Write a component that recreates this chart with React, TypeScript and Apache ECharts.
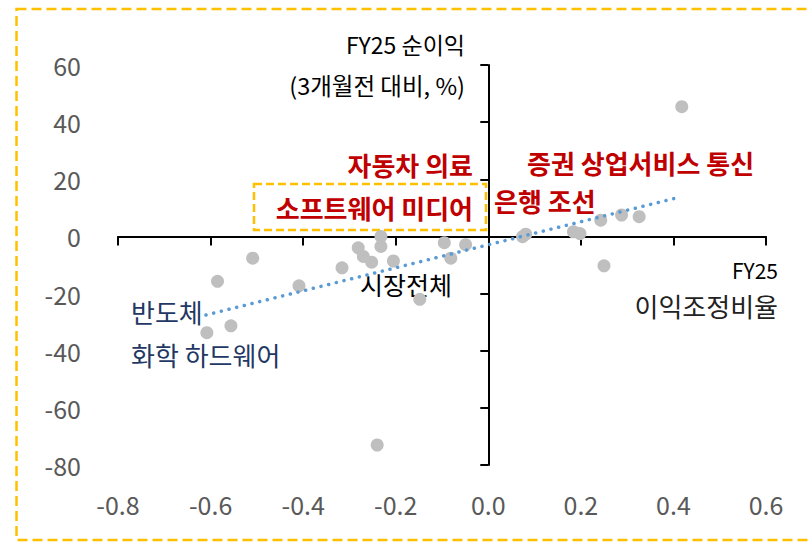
import React, { useEffect, useRef } from "react";
import * as echarts from "echarts";

// FY25 earnings revision ratio (x) vs FY25 net profit change vs 3 months ago (y, %)
const revisionRatio = [
  0.418, -0.585, -0.509, -0.409, -0.608, -0.556, -0.316, -0.281, -0.27, -0.252,
  -0.232, -0.232, -0.205, -0.148, -0.095, -0.081, -0.049, -0.24, 0.074, 0.081,
  0.184, 0.198, 0.243, 0.288, 0.326, 0.25,
];
const profitChange = [
  45.4, -15.7, -7.6, -17.3, -33.7, -31.3, -11, -4, -7, -9,
  0, -3.5, -8.6, -22, -2.2, -7.6, -2.9, -73, -0.1, 0.8,
  1.6, 1.0, 5.7, 7.5, 6.9, -10.3,
];
const trendX = [-0.61, 0.405];
const trendY = [-27.5, 13.4];

const xTicks = { min: -0.8, max: 0.6, interval: 0.2 };
const yTicks = { min: -80, max: 60, interval: 20 };

const FONT = "'Noto Sans CJK KR', 'Noto Sans', sans-serif";

function txt(text: string, x: number, y: number, size: number, color: string, align: string, bold = false) {
  return {
    type: "text",
    x,
    y,
    silent: true,
    style: {
      text,
      fill: color,
      font: `${bold ? "bold " : ""}${size}px ${FONT}`,
      align,
      textAlign: align,
      verticalAlign: "middle",
      textVerticalAlign: "middle",
    },
  };
}

export default function App() {
  const ref = useRef<HTMLDivElement>(null);
  useEffect(() => {
    if (!ref.current) return;
    const chart = echarts.init(ref.current, undefined, { renderer: "svg" });
    const points = revisionRatio.map((x, i) => [x, profitChange[i]]);
    const trend = trendX.map((x, i) => [x, trendY[i]]);
    const red = "#c00000";
    const navy = "#1f3864";
    chart.setOption({
      animation: false,
      textStyle: { fontFamily: FONT },
      grid: { left: 118, right: 44, top: 65, bottom: 77 },
      xAxis: [
        {
          type: "value",
          position: "bottom",
          ...xTicks,
          axisLine: { show: true, onZero: true, lineStyle: { color: "#000", width: 2 } },
          axisTick: { show: true, length: 9, lineStyle: { color: "#000", width: 2 } },
          axisLabel: { show: false },
          splitLine: { show: false },
        },
        {
          type: "value",
          position: "bottom",
          ...xTicks,
          axisLine: { show: false, onZero: false },
          axisTick: { show: false },
          axisLabel: {
            show: true,
            color: "#595959",
            fontSize: 25,
            fontFamily: FONT,
            margin: 26,
            formatter: (v: number) => v.toFixed(1),
          },
          splitLine: { show: false },
        },
      ],
      yAxis: [
        {
          type: "value",
          position: "left",
          ...yTicks,
          axisLine: { show: true, onZero: true, lineStyle: { color: "#000", width: 2 } },
          axisTick: { show: true, length: 8, lineStyle: { color: "#000", width: 2 } },
          axisLabel: { show: false },
          splitLine: { show: false },
        },
        {
          type: "value",
          position: "left",
          ...yTicks,
          axisLine: { show: false, onZero: false },
          axisTick: { show: false },
          axisLabel: { show: true, color: "#595959", fontSize: 25, fontFamily: FONT, margin: 37 },
          splitLine: { show: false },
        },
      ],
      series: [
        {
          type: "line",
          xAxisIndex: 0,
          yAxisIndex: 0,
          data: trend,
          showSymbol: false,
          symbol: "none",
          z: 3,
          lineStyle: { color: "#5b9bd5", width: 3.5, type: [0.1, 7.8], cap: "round" },
        },
        {
          type: "scatter",
          xAxisIndex: 0,
          yAxisIndex: 0,
          data: points,
          symbolSize: 13,
          z: 2,
          itemStyle: { color: "#bfbfbf", opacity: 1 },
        },
      ],
      graphic: [
        {
          type: "rect",
          silent: true,
          shape: { x: 16.5, y: 9, width: 820, height: 531 },
          style: { fill: "none", stroke: "#ffc000", lineWidth: 2.5, lineDash: [10, 5] },
        },
        {
          type: "rect",
          silent: true,
          shape: { x: 254, y: 184, width: 232, height: 46 },
          style: { fill: "none", stroke: "#ffc000", lineWidth: 2.5, lineDash: [8, 4] },
        },
        txt("FY25 순이익", 465, 44, 23, "#000", "right"),
        txt("(3개월전 대비, %)", 465, 85, 23.5, "#000", "right"),
        txt("FY25", 778, 270, 21, "#000", "right"),
        txt("이익조정비율", 778, 305, 26, "#222", "right"),
        txt("시장전체", 406, 284, 25, "#000", "center"),
        txt("반도체", 131, 311, 26, navy, "left"),
        txt("화학 하드웨어", 131, 354, 26, navy, "left"),
        txt("자동차 의료", 473, 164, 26, red, "right", true),
        txt("소프트웨어 미디어", 473, 207, 26, red, "right", true),
        txt("증권 상업서비스 통신", 527, 162, 26, red, "left", true),
        txt("은행 조선", 494, 200, 26, red, "left", true),
      ],
    });
    return () => chart.dispose();
  }, []);
  return (
    <div
      ref={ref}
      style={{ position: "absolute", left: 0, top: 0, width: 810, height: 542, background: "#fff" }}
    />
  );
}
